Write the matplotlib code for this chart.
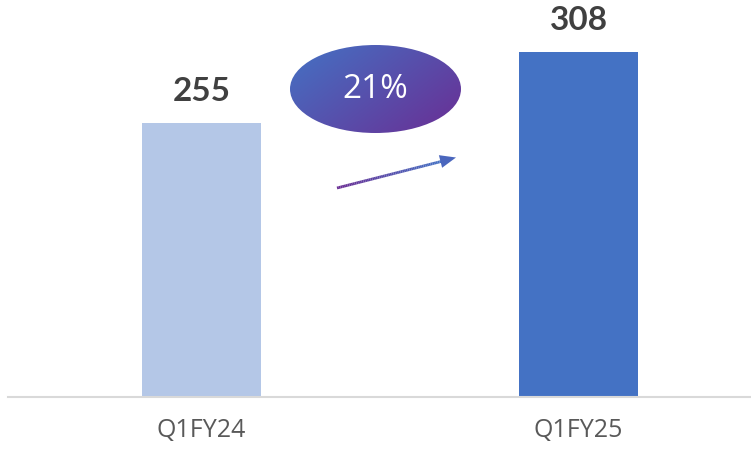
import numpy as np
import matplotlib
matplotlib.use("Agg")
from matplotlib import pyplot as plt
from matplotlib.patches import Ellipse, Polygon
from matplotlib.collections import LineCollection
from matplotlib.colors import LinearSegmentedColormap, to_rgb

# data
categories = ["Q1FY24", "Q1FY25"]
values = [255, 308]
bar_colors = ["#B4C7E7", "#4472C4"]
growth_label = "21%"

W, H = 751, 449
fig = plt.figure(figsize=(W / 100, H / 100), dpi=100)

# main bar axes (baseline at ~397px from top)
ax = fig.add_axes([8 / W, (H - 397) / H, 1 - 8 / W, 397 / H])
x = np.arange(len(categories))
ax.bar(x, values, width=0.316, color=bar_colors, zorder=2)
ax.set_xlim(-0.513, 1.4576)
ax.set_ylim(50.5, 346.8)
for xi, v in zip(x, values):
    ax.annotate(str(v), (xi, v), xytext=(0, 31.5), textcoords="offset pixels",
                ha="center", va="center", fontsize=24, fontweight="bold",
                family="Lato", color="#404040")

for s in ["top", "left", "right"]:
    ax.spines[s].set_visible(False)
ax.spines["bottom"].set_color("#D9D9D9")
ax.spines["bottom"].set_linewidth(1.5)
ax.set_yticks([])
ax.set_xticks(x)
ax.set_xticklabels(categories, fontsize=18, family="Open Sans", color="#595959")
ax.tick_params(axis="x", length=0, pad=15)

# overlay axes in pixel coords for the growth callout
ov = fig.add_axes([0, 0, 1, 1], zorder=5)
ov.set_xlim(0, W)
ov.set_ylim(H, 0)
ov.axis("off")

c_blue = np.array(to_rgb("#4472C4"))
c_purple = np.array(to_rgb("#6A2E94"))
cmap = LinearSegmentedColormap.from_list("g", [c_blue, c_purple])

ecx, ecy, ew, eh = 375.5, 89, 171, 88
ell = Ellipse((ecx, ecy), ew, eh, facecolor="none", edgecolor="none")
ov.add_patch(ell)
gx, gy = np.meshgrid(np.linspace(0, 1, 200), np.linspace(0, 1, 200))
grad = (gx * 0.6 + gy * 0.4)
img = ov.imshow(grad, cmap=cmap, extent=(ecx - ew / 2, ecx + ew / 2, ecy + eh / 2, ecy - eh / 2),
                origin="upper", aspect="auto", zorder=3)
img.set_clip_path(ell)
ov.text(ecx, ecy + 1, growth_label, ha="center", va="center", color="white",
        fontsize=24, family="Open Sans", zorder=4)

# gradient arrow
x0, y0, x1, y1 = 337, 188, 443, 161
n = 60
xs = np.linspace(x0, x1, n + 1)
ys = np.linspace(y0, y1, n + 1)
segs = [[(xs[i], ys[i]), (xs[i + 1], ys[i + 1])] for i in range(n)]
t = np.linspace(0, 1, n)
cols = [cmap(1 - ti) for ti in t]
ov.add_collection(LineCollection(segs, colors=cols, linewidths=2.0, zorder=3))
tip = np.array([456, 157.5])
d = tip - np.array([x0, y0])
d = d / np.linalg.norm(d)
nrm = np.array([-d[1], d[0]])
base = tip - d * 16
head = Polygon([tip, base + nrm * 6.5, base - nrm * 6.5], closed=True,
               facecolor="#4A66BD", edgecolor="none", zorder=3)
ov.add_patch(head)

fig.savefig("out.png", dpi=100)
